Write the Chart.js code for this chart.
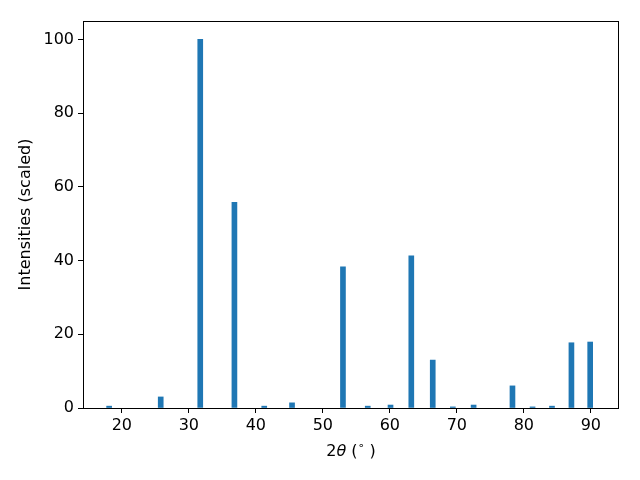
<!DOCTYPE html>
<html>
<head>
<meta charset="utf-8">
<script src="https://cdn.jsdelivr.net/npm/chart.js@4.4.0/dist/chart.umd.min.js"></script>
<style>
  html, body { margin: 0; padding: 0; background: #fff; }
  #wrap { width: 640px; height: 480px; }
</style>
</head>
<body>
<div id="wrap"><canvas id="xrd" width="640" height="480"></canvas></div>
<script>
// peak positions (2theta, degrees) and scaled intensities
const twoTheta = [18.1, 25.8, 31.7, 36.8, 41.25, 45.4, 53.0, 56.7, 60.1, 63.2, 66.4, 69.4, 72.5, 78.3, 81.3, 84.2, 87.1, 89.9]
const intensity = [0.5, 3.0, 100, 55.8, 0.5, 1.4, 38.3, 0.5, 0.8, 41.3, 13.0, 0.3, 0.8, 6.0, 0.3, 0.5, 17.7, 17.9]
const xTicks = [20, 30, 40, 50, 60, 70, 80, 90]
const yTicks = [0, 20, 40, 60, 80, 100]

const font = 'DejaVu Sans'

// frame around plot + matplotlib-ish axis labels
const framePlugin = {
    id: 'frame',
    afterDraw(chart) {
        const c = chart.ctx
        const a = chart.chartArea
        c.save()
        c.strokeStyle = '#000'
        c.lineWidth = 1
        c.strokeRect(a.left + 0.5, a.top + 0.5, a.right - a.left - 1, a.bottom - a.top)

        c.fillStyle = '#000'
        c.textBaseline = 'middle'
        // x label: 2θ (°)
        let parts = [
            { t: '2', f: `16px "${font}"`, dy: 0 },
            { t: 'θ', f: `italic 16px "${font}"`, dy: 0 },
            { t: ' (', f: `16px "${font}"`, dy: 0 },
            { t: '∘', f: `11px "${font}"`, dy: -6 },
            { t: ' )', f: `16px "${font}"`, dy: 0 }
        ]
        let total = 0
        parts.forEach(p => { c.font = p.f; p.w = c.measureText(p.t).width; total += p.w })
        let x = (a.left + a.right) / 2 - total / 2
        const y = 452
        c.textAlign = 'left'
        parts.forEach(p => { c.font = p.f; c.fillText(p.t, x, y + p.dy); x += p.w })

        // y label
        c.translate(26, (a.top + a.bottom) / 2)
        c.rotate(-Math.PI / 2)
        c.textAlign = 'center'
        c.font = `16px "${font}"`
        c.fillText('Intensities (scaled)', 0, 0)
        c.restore()
    }
}

const ctx = document.querySelector('#xrd').getContext('2d')
const graph = new Chart(ctx, {
    type: 'bar',
    data: {
        datasets: [{
            data: twoTheta.map((t, i) => ({ x: t, y: intensity[i] })),
            backgroundColor: '#1f77b4',
            borderWidth: 0,
            barThickness: 5
        }]
    },
    options: {
        responsive: false,
        animation: false,
        devicePixelRatio: 1,
        layout: { padding: { top: 21, right: 21, left: 0, bottom: 0 } },
        plugins: { legend: { display: false }, tooltip: { enabled: false } },
        scales: {
            x: {
                type: 'linear',
                min: 14.2,
                max: 94.2,
                offset: false,
                grid: { offset: false, drawOnChartArea: false, drawTicks: true, tickLength: 5, color: '#000' },
                border: { display: false },
                ticks: { color: '#000', font: { family: font, size: 16 }, padding: 3, maxRotation: 0 },
                afterBuildTicks: (s) => { s.ticks = xTicks.map(v => ({ value: v })) },
                afterFit: (s) => { s.height = 72 }
            },
            y: {
                min: 0,
                max: 105,
                grid: { offset: false, drawOnChartArea: false, drawTicks: true, tickLength: 5, color: '#000' },
                border: { display: false },
                ticks: { color: '#000', font: { family: font, size: 16 }, padding: 4 },
                afterBuildTicks: (s) => { s.ticks = yTicks.map(v => ({ value: v })) },
                afterFit: (s) => { s.width = 83 }
            }
        }
    },
    plugins: [framePlugin]
})
</script>
</body>
</html>
